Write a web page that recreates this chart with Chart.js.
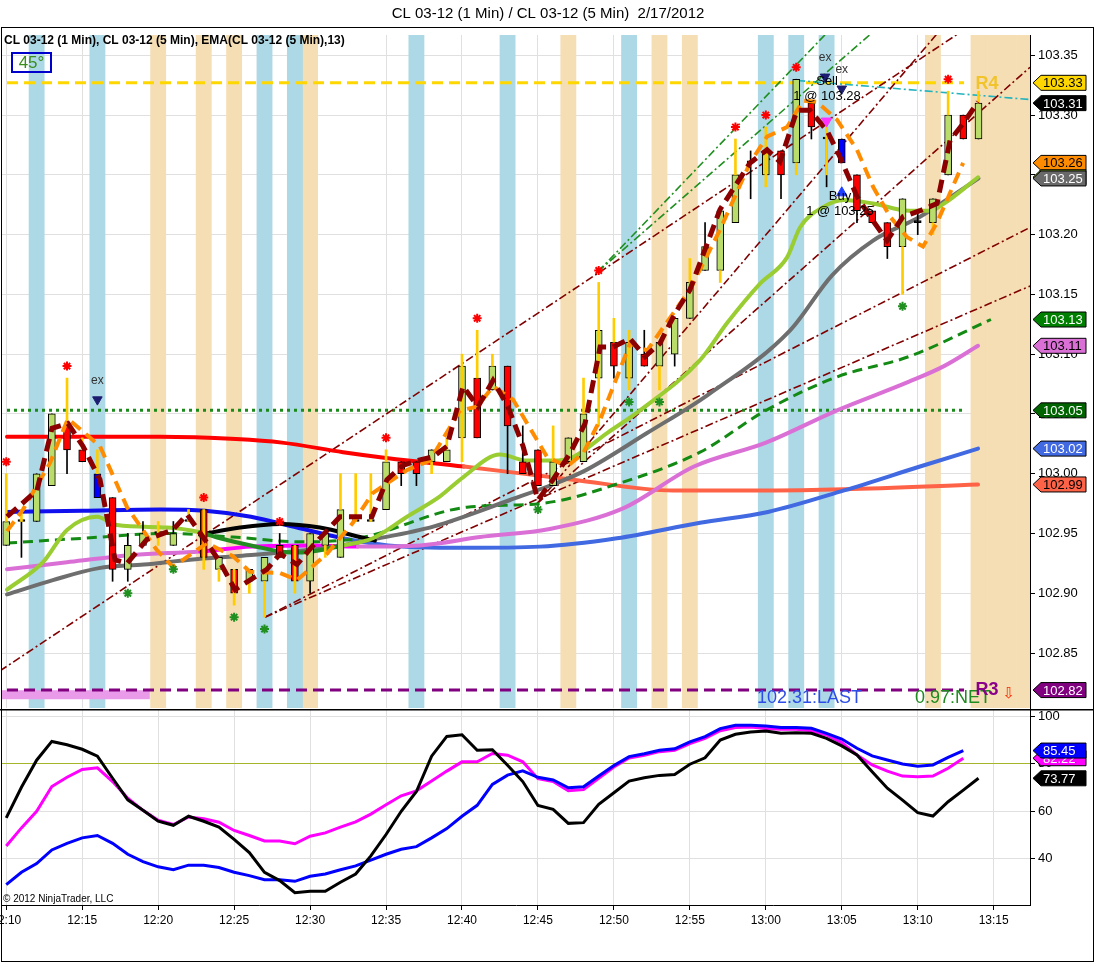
<!DOCTYPE html>
<html>
<head>
<meta charset="utf-8">
<title>CL 03-12</title>
<script src="https://cdn.jsdelivr.net/npm/chart.js@4.4.1/dist/chart.umd.min.js"></script>
<style>
html,body{margin:0;padding:0;background:#fff;}
body{width:1094px;height:962px;position:relative;overflow:hidden;}
#main{position:absolute;left:0;top:0;}
#sub{position:absolute;left:0;top:709px;}
#frame{position:absolute;left:1px;top:27px;width:1091px;height:933px;border:1px solid #000;pointer-events:none;}
</style>
</head>
<body>
<canvas id="main" width="1094" height="709"></canvas>
<canvas id="sub" width="1094" height="253"></canvas>
<div id="frame"></div>
<script>
// ---------------- DATA ----------------
const titleText = 'CL 03-12 (1 Min) / CL 03-12 (5 Min)  2/17/2012';
const headerText = 'CL 03-12 (1 Min), CL 03-12 (5 Min), EMA(CL 03-12 (5 Min),13)';
const angleText = '45°';
const lastText = '102.31:LAST';
const netText = '0.97:NET';
const copyrightText = '© 2012 NinjaTrader, LLC';
const startHour = 12, startMinute = 10;   // bar index 0 = 12:10, one bar per minute

// 1-minute candles
const opens  = [102.94,102.96,102.96,102.99,103.04,103.02,103.00,102.98,102.92,102.94, 102.95,102.94,102.96,102.97,102.92,102.92,102.91,102.91,102.94,102.94, 102.91,102.94,102.93,102.96,102.96,102.97,103.01,103.01,103.01,103.01, 103.03,103.08,103.07,103.09,103.01,103.02,102.99,103.01,103.01,103.08, 103.11,103.08,103.10,103.09,103.10,103.13,103.17,103.17,103.21,103.26, 103.25,103.27,103.26,103.31,103.28,103.28,103.25,103.22,103.21,103.19, 103.21,103.21,103.25,103.30,103.28];
const highs  = [102.96,102.96,103.00,103.05,103.04,103.02,103.00,102.98,102.95,102.96, 102.95,102.96,102.96,102.97,102.93,102.92,102.92,102.93,102.95,102.94, 102.95,102.95,102.97,102.96,102.96,103.01,103.01,103.01,103.02,103.02, 103.09,103.08,103.09,103.09,103.04,103.02,103.01,103.03,103.05,103.12, 103.11,103.11,103.12,103.11,103.13,103.16,103.21,103.22,103.25,103.27, 103.27,103.27,103.33,103.31,103.28,103.28,103.25,103.22,103.21,103.23, 103.22,103.23,103.30,103.30,103.31];
const lows   = [102.94,102.93,102.96,102.99,103.00,103.01,102.98,102.91,102.91,102.94, 102.95,102.94,102.96,102.93,102.92,102.90,102.91,102.91,102.93,102.91, 102.90,102.94,102.93,102.96,102.96,102.97,102.99,102.99,103.01,103.01, 103.03,103.03,103.07,103.00,103.00,102.99,102.99,103.01,103.01,103.08, 103.08,103.08,103.09,103.09,103.09,103.13,103.17,103.17,103.21,103.23, 103.25,103.23,103.26,103.28,103.24,103.26,103.21,103.21,103.18,103.19, 103.20,103.21,103.25,103.28,103.28];
const closes = [102.96,102.96,103.00,103.05,103.02,103.01,102.98,102.92,102.94,102.95, 102.95,102.95,102.96,102.93,102.93,102.90,102.92,102.93,102.93,102.91, 102.95,102.95,102.97,102.96,102.96,103.01,103.00,103.00,103.02,103.02, 103.09,103.03,103.09,103.04,103.00,102.99,103.01,103.03,103.05,103.12, 103.09,103.11,103.09,103.11,103.13,103.16,103.19,103.22,103.25,103.26, 103.27,103.25,103.33,103.29,103.28,103.26,103.22,103.21,103.19,103.23, 103.21,103.23,103.30,103.28,103.31];
const signalBars = [6, 55];
// yellow spikes: [bar, low, high]
const spikes = [[0,102.96,103.00],[1,102.96,102.97],[4,103.04,103.08],[5,103.02,103.03],[6,103.00,103.02],[10,102.94,102.96],[12,102.96,102.97],[13,102.92,102.97],[14,102.91,102.92],[15,102.89,102.92],[16,102.90,102.91],[17,102.88,102.91],[19,102.90,102.94],[21,102.93,102.94],[22,102.97,103.00],[23,102.96,103.00],[24,102.96,103.00],[25,103.01,103.02],[28,103.00,103.01],[29,103.02,103.03],[30,103.01,103.10],[31,103.08,103.12],[32,103.09,103.10],[36,103.01,103.04],[38,103.05,103.08],[39,103.04,103.16],[40,103.11,103.13],[41,103.07,103.12],[43,103.07,103.09],[45,103.16,103.18],[47,103.16,103.17],[48,103.25,103.28],[50,103.24,103.29],[52,103.25,103.26],[54,103.25,103.29],[59,103.15,103.19],[61,103.20,103.21],[62,103.30,103.32],[64,103.31,103.32]];

// indicator lines: [minute, price]
const redMA = [[0.05,103.031],[10.12,103.031],[15.12,103.029],[18.15,103.026],[22.17,103.018],[25.13,103.013],[30.13,103.006],[37.31,102.995],[43.89,102.986],[50.14,102.986],[55.15,102.987],[63.97,102.991]];
const blueMA = [[0.05,102.968],[5.05,102.969],[10.12,102.970],[13.08,102.969],[16.11,102.964],[19.14,102.955],[22.17,102.946],[25.13,102.940],[30.13,102.938],[35.14,102.939],[40.20,102.946],[45.67,102.959],[50.14,102.968],[55.15,102.986],[60.15,103.006],[63.97,103.021]];
const greyMA = [[0.05,102.899],[3.07,102.911],[6.10,102.921],[9.07,102.924],[12.09,102.928],[15.12,102.931],[18.15,102.934],[21.11,102.938],[24.14,102.945],[28.16,102.956],[33.16,102.978],[36.19,102.992],[38.16,103.003],[42.18,103.034],[46.19,103.066],[51.60,103.120],[54.36,103.166],[57.06,103.195],[60.15,103.215],[64.00,103.247]];
const blackMA = [[12.75,102.949],[15.39,102.955],[18.02,102.958],[20.65,102.955],[23.29,102.947],[24.27,102.944]];
const greenMA = [[0.05,102.903],[2.42,102.926],[4.00,102.953],[5.97,102.964],[7.29,102.957],[10.58,102.955],[12.75,102.951],[14.07,102.946],[16.11,102.940],[18.81,102.934],[20.13,102.935],[22.17,102.940],[24.14,102.946],[26.38,102.964],[28.55,102.981],[30.07,102.997],[32.50,103.016],[34.28,103.011],[35.99,103.011],[37.31,103.014],[39.55,103.034],[41.72,103.053],[45.67,103.095],[47.45,103.126],[49.62,103.159],[51.40,103.181],[52.25,103.206],[53.76,103.223],[55.15,103.229],[57.06,103.226],[59.43,103.220],[60.81,103.220],[61.73,103.226],[63.97,103.248]];
const dashGreenMA = [[0.05,102.942],[5.05,102.946],[10.58,102.950],[14.92,102.947],[19.34,102.943],[23.15,102.946],[30.33,102.972],[35.14,102.975],[40.60,102.993],[45.67,103.018],[50.01,103.053],[54.69,103.081],[59.43,103.098],[64.82,103.129]];
const orchidMA = [[0.05,102.920],[4.00,102.926],[8.34,102.932],[12.75,102.935],[16.11,102.939],[20.13,102.940],[23.15,102.939],[27.24,102.940],[31.19,102.947],[35.86,102.954],[40.60,102.971],[45.27,103.006],[50.01,103.026],[54.69,103.053],[59.43,103.077],[61.73,103.090],[63.97,103.107]];
const orangeLine = [[0.05,102.952],[1.10,102.970],[2.88,103.009],[4.06,103.046],[6.17,103.023],[7.95,102.972],[9.92,102.936],[10.97,102.922],[13.21,102.942],[14.92,102.931],[16.04,102.918],[18.02,102.917],[19.14,102.911],[21.11,102.933],[22.82,102.959],[24.14,102.984],[26.38,103.003],[27.89,103.011],[29.87,103.053],[30.99,103.056],[32.04,103.073],[33.36,103.062],[35.60,103.014],[36.91,103.006],[37.97,103.017],[39.09,103.045],[40.21,103.081],[41.06,103.109],[42.18,103.103],[43.89,103.134],[45.01,103.154],[46.98,103.204],[48.96,103.260],[50.08,103.282],[51.40,103.290],[52.45,103.312],[53.37,103.311],[54.69,103.296],[56.00,103.271],[57.06,103.240],[58.18,103.215],[59.29,103.198],[60.35,103.190],[61.27,103.210],[62.13,103.235],[62.99,103.260]];
const zigzagLine = [[0.05,102.964],[2.02,102.986],[3.01,103.038],[4.06,103.042],[5.05,103.023],[6.17,102.995],[7.16,102.928],[7.95,102.925],[9.26,102.945],[10.97,102.953],[11.90,102.966],[12.95,102.947],[14.07,102.926],[15.06,102.903],[16.04,102.911],[17.16,102.920],[18.02,102.933],[19.14,102.924],[20.13,102.939],[21.97,102.964],[23.09,102.964],[24.07,102.964],[25.06,102.995],[26.12,103.007],[27.04,103.011],[28.09,103.014],[29.01,103.023],[30.07,103.073],[31.05,103.056],[32.04,103.078],[33.03,103.056],[34.02,103.023],[35.00,102.978],[35.99,102.995],[37.11,103.017],[38.10,103.042],[39.09,103.106],[39.94,103.106],[41.06,103.113],[42.05,103.098],[43.03,103.109],[44.02,103.134],[45.01,103.154],[46.98,103.221],[48.10,103.243],[48.96,103.260],[50.08,103.271],[50.93,103.261],[52.05,103.304],[52.91,103.304],[54.03,103.287],[54.88,103.265],[56.00,103.232],[56.86,103.215],[57.98,103.195],[59.03,103.215],[60.15,103.220],[61.27,103.226],[62.13,103.279],[62.99,103.293],[63.97,103.311]];

// levels and drawn lines
const goldLevel = 103.327, dottedLevel = 103.053, purpleLevel = 102.819, violetLevel = 102.815;
const levelSpan = [0.05, 63.05];
const violetSpan = [-0.28, 9.45];
const fanRed = [
  [[-0.42,102.835],[62.65,103.368]],
  [[17.03,102.880],[67.39,103.157]],
  [[17.03,102.880],[67.39,103.206]],
  [[34.94,102.975],[67.39,103.340]],
  [[34.94,102.975],[61.27,103.368]]
];
const fanGreen = [
  [[38.95,103.169],[53.96,103.368]],
  [[38.95,103.169],[56.92,103.368]]
];
const tealLine = [[52.06,103.329],[67.39,103.313]];

// highlighted bars
const blueBands = [2,6,17,19,27,33,41,50,52,54];
const wheatBands = [10,13,15,20,37,43,45,61,64,65,66,67];

// markers
const redStars = [[0,103.01],[4,103.09],[13,102.98],[18,102.96],[25,103.03],[31,103.13],[39,103.17],[48,103.29],[50,103.30],[52,103.34],[62,103.33]];
const greenStars = [[8,102.90],[11,102.92],[15,102.88],[17,102.87],[35,102.97],[41,103.06],[43,103.06],[59,103.14]];
const exMarks = [[6,103.062],[53.9,103.332],[55,103.322]];
const pinkArrows = [[54,103.295]];
const blueArrows = [[55,103.235]];
const trades = [
  {m:54.03, p:103.328, lines:['Sell','1 @ 103.28']},
  {m:54.88, p:103.232, lines:['Buy','1 @ 103.25']}
];

// lower panel (one value per minute from 12:10)
const stochK = [57.1,70.0,81.4,89.3,87.9,86.0,83.1,73.8,64.7,60.3,55.7,54.0,57.8,55.7,53.2,48.1,42.5,34.2,30.7,25.6,26.2,26.2,30.0,33.5,41.1,50.1,59.9,68.2,83.1,91.4,92.1,85.6,85.8,79.3,72.4,62.3,60.7,54.8,55.1,62.8,67.7,72.6,74.0,75.0,75.4,79.7,82.4,89.9,92.3,93.3,93.7,92.7,93.0,92.7,90.6,87.4,83.6,76.5,69.6,64.6,59.3,57.9,63.9,68.8,73.77];
const stochBlue = [29.0,34.2,37.9,43.6,46.4,48.7,49.7,46.4,41.8,38.7,36.5,35.3,37.2,37.2,36.2,34.2,32.8,31.1,31.1,30.4,32.5,33.5,35.3,36.9,39.3,41.8,43.9,45.0,48.7,52.6,57.8,62.4,71.2,75.1,76.9,74.2,73.1,69.8,70.2,74.7,79.2,82.9,84.1,85.6,86.2,89.1,91.3,94.7,96.1,96.1,95.8,95.2,95.2,94.8,92.7,90.3,86.4,83.2,81.5,79.8,78.9,79.4,82.6,85.45];
const stochMagenta = [45.3,52.9,59.9,70.3,74.2,77.5,78.2,72.4,65.4,60.3,56.1,54.3,57.5,56.7,55.3,51.8,49.7,47.4,47.4,46.2,49.4,50.8,53.2,55.4,58.7,62.6,66.4,68.5,72.6,76.8,80.7,80.7,84.2,83.5,80.7,73.6,72.4,68.5,69.0,73.8,78.5,82.3,83.5,85.0,85.6,88.4,90.6,93.8,95.2,95.4,94.7,94.4,94.4,93.8,92.0,88.8,83.6,79.4,76.8,74.7,74.4,74.7,78.0,82.22];
const stochLevel = 80;

// ---------------- RENDER ----------------
const FONT = 'Arial, "Liberation Sans", sans-serif';
const GRID = '#e0e0e0';
const X_MIN = -0.28, X_MAX = 67.39;
const Y_MIN = 102.804, Y_MAX = 103.367;
const Y2_MIN = 20.43, Y2_MAX = 102.53;
const UP = '#b9dc6a', DOWN = '#ff0000', SIGNAL = '#0000ff';

const xy = a => a.map(([x, y]) => ({x, y}));
const lastOf = a => a[a.length - 1][1];
function timeLabel(v) {
  const t = startHour * 60 + startMinute + v;
  return Math.floor(t / 60) + ':' + String(t % 60).padStart(2, '0');
}
function line(data, color, width, extra) {
  return Object.assign({type:'line', data: xy(data), borderColor: color, borderWidth: width,
    pointRadius: 0, fill: false, tension: 0, order: 20}, extra || {});
}
function ma(data, color, width, extra) {
  return line(data, color, width, Object.assign({cubicInterpolationMode:'monotone', borderCapStyle:'round', borderJoinStyle:'round'}, extra || {}));
}
function bands(mins, color) {
  return {type:'bar', data: mins.map(m => ({x:m, y:[Y_MIN, Y_MAX]})), backgroundColor: color,
    borderWidth: 0, grouped: false, barPercentage: 1, categoryPercentage: 1, order: 100};
}
function markers(data, style, color, radius, extra) {
  return Object.assign({type:'line', showLine:false, data: xy(data), pointStyle: style, pointRadius: radius,
    pointBackgroundColor: color, pointBorderColor: color, pointBorderWidth: 2, order: 1}, extra || {});
}
const between = (lo, hi, inC, outC) => c => (c.p0.parsed.x >= lo && c.p0.parsed.x < hi ? inC : outC);

const datasets = [
  bands(blueBands, '#add8e6'),
  bands(wheatBands, '#f5deb3'),
  // levels
  line([[levelSpan[0], goldLevel],[levelSpan[1], goldLevel]], '#ffd700', 3, {borderDash:[11,6], order:35}),
  line([[levelSpan[0], dottedLevel],[levelSpan[1], dottedLevel]], '#1a8a1a', 3, {borderDash:[3,4], order:35}),
  line([[violetSpan[0], violetLevel],[violetSpan[1], violetLevel]], '#e99ae9', 9, {order:36}),
  line([[levelSpan[0], purpleLevel],[levelSpan[1], purpleLevel]], '#800080', 3, {borderDash:[11,6], order:35}),
  // fan / trend lines
  ...fanRed.map(f => line(f, '#800000', 1.6, {borderDash:[8,3,2,3], order:30})),
  ...fanGreen.map(f => line(f, '#1f8f1f', 1.6, {borderDash:[8,3,2,3], order:30})),
  line(tealLine, '#22b3bf', 1.6, {borderDash:[8,3,2,3], order:30}),
  // moving averages
  ma(redMA, '#ff0000', 4, {order:16, segment:{borderColor: between(30.13, 999, '#ff6347', '#ff0000')}}),
  ma(blueMA, '#0000ff', 4, {order:15, segment:{borderColor: between(22.17, 999, '#4169e1', '#1010ee')}}),
  ma(orchidMA, '#da70d6', 4, {order:14, segment:{borderColor: between(12.75, 23.15, '#ff00ff', '#da70d6')}}),
  ma(dashGreenMA, '#138a13', 3, {order:13, borderDash:[10,6], borderCapStyle:'butt'}),
  ma(greyMA, '#6e6e6e', 4, {order:12}),
  ma(blackMA, '#000000', 4, {order:11}),
  ma(greenMA, '#9acd32', 4, {order:10, segment:{borderColor: between(12.75, 22.17, '#228b22', '#9acd32')}}),
  // candles
  {type:'bar', data: highs.map((h, i) => ({x:i, y:[lows[i], h]})), backgroundColor:'#000',
    barThickness:1, grouped:false, order:9},
  {type:'bar', data: opens.map((o, i) => ({x:i, y:[o, closes[i]]})),
    backgroundColor: opens.map((o, i) => signalBars.includes(i) ? SIGNAL : closes[i] > o ? UP : closes[i] < o ? DOWN : '#000'),
    borderColor:'#000', borderWidth:1, borderSkipped:false, barThickness:7, minBarLength:2, grouped:false, order:8},
  {type:'bar', data: spikes.map(([i, lo, hi]) => ({x:i, y:[lo, hi]})), backgroundColor:'#ffcc00',
    barThickness:2, grouped:false, order:7},
  // swing lines
  line(orangeLine, '#ff8c00', 4, {borderDash:[12,7], order:3}),
  line(zigzagLine, '#8b0000', 5, {borderDash:[13,7], order:2}),
  // markers
  markers(redStars, 'star', '#ff0000', 4.5),
  markers(greenStars, 'star', '#1f8f1f', 4.5),
  markers(exMarks, 'triangle', '#1c1c70', 5.5, {pointRotation:180, pointBorderWidth:1}),
  markers(pinkArrows, 'triangle', '#ff33ff', 6, {pointRotation:180, pointBorderWidth:1}),
  markers(blueArrows, 'triangle', '#1f3fff', 6, {pointBorderWidth:1})
];

function drawTag(ctx, xLeft, y, text, bg, fg) {
  const h = 15, tip = 8, w = 53;
  ctx.beginPath();
  ctx.moveTo(xLeft, y);
  ctx.lineTo(xLeft + tip, y - h / 2);
  ctx.lineTo(xLeft + w, y - h / 2);
  ctx.lineTo(xLeft + w, y + h / 2);
  ctx.lineTo(xLeft + tip, y + h / 2);
  ctx.closePath();
  ctx.fillStyle = bg; ctx.fill();
  ctx.lineWidth = 1; ctx.strokeStyle = '#000'; ctx.stroke();
  ctx.fillStyle = fg; ctx.font = '13px ' + FONT;
  ctx.textAlign = 'left'; ctx.textBaseline = 'middle';
  ctx.fillText(text, xLeft + tip + 2, y + 1);
}

const mainOverlay = {
  id: 'mainOverlay',
  afterDatasetsDraw(chart) {
    const {ctx, chartArea: a} = chart;
    const X = v => chart.scales.x.getPixelForValue(v), Y = v => chart.scales.y.getPixelForValue(v);
    ctx.save();
    ctx.textBaseline = 'middle'; ctx.textAlign = 'left'; ctx.fillStyle = '#000';
    ctx.font = 'bold 12px ' + FONT;
    ctx.fillText(headerText, a.left + 2, a.top + 6);
    ctx.lineWidth = 2; ctx.strokeStyle = '#0000cd';
    ctx.strokeRect(a.left + 10, a.top + 18, 39, 19);
    ctx.font = '17px ' + FONT; ctx.fillStyle = '#3a8d1c'; ctx.textAlign = 'center';
    ctx.fillText(angleText, a.left + 29.5, a.top + 28);
    ctx.font = '12px ' + FONT; ctx.fillStyle = '#333';
    exMarks.forEach(([m, p]) => ctx.fillText('ex', X(m), Y(p) - 19));
    ctx.font = '13px ' + FONT; ctx.fillStyle = '#000';
    trades.forEach(t => t.lines.forEach((s, k) => ctx.fillText(s, X(t.m), Y(t.p) + k * 15)));
    const rx = X(opens.length - 1) - 3;
    ctx.textAlign = 'left'; ctx.font = 'bold 18px ' + FONT;
    ctx.fillStyle = '#f2c42c'; ctx.fillText('R4', rx, Y(goldLevel) + 1);
    ctx.textBaseline = 'alphabetic'; ctx.font = '18px ' + FONT;
    ctx.fillStyle = '#2c4ee6'; ctx.fillText(lastText, a.right - 273, a.bottom - 5);
    ctx.fillStyle = '#1f8a1f'; ctx.fillText(netText, a.right - 115, a.bottom - 5);
    ctx.textBaseline = 'middle'; ctx.font = 'bold 18px ' + FONT;
    ctx.fillStyle = '#8b008b'; ctx.fillText('R3', rx, Y(purpleLevel));
    ctx.fillStyle = '#ff2a00'; ctx.font = '15px "DejaVu Sans", sans-serif';
    ctx.fillText('⇩', rx + 27, Y(purpleLevel) + 4);
    ctx.restore();
  },
  afterDraw(chart) {
    const {ctx, chartArea: a} = chart;
    const Y = v => chart.scales.y.getPixelForValue(v);
    const tags = [
      [goldLevel, '#ffd700', '#000'],
      [closes[closes.length - 1], '#000', '#fff'],
      [lastOf(orangeLine), '#ff8c00', '#000'],
      [lastOf(greenMA), '#9acd32', '#000'],
      [lastOf(greyMA), '#696969', '#fff'],
      [lastOf(dashGreenMA), '#008000', '#fff'],
      [lastOf(orchidMA), '#da70d6', '#000'],
      [dottedLevel, '#006400', '#fff'],
      [lastOf(blueMA), '#4169e1', '#fff'],
      [lastOf(redMA), '#ff6347', '#000'],
      [purpleLevel, '#800080', '#fff']
    ];
    ctx.save();
    tags.forEach(([v, bg, fg]) => drawTag(ctx, a.right + 3, Y(v), v.toFixed(2), bg, fg));
    ctx.restore();
  }
};

new Chart(document.getElementById('main'), {
  type: 'bar',
  data: {datasets},
  options: {
    responsive: false, animation: false, events: [],
    layout: {autoPadding: false, padding: {left: 2, right: 0, top: 0, bottom: 0}},
    plugins: {
      legend: {display: false}, tooltip: {enabled: false},
      title: {display: true, text: titleText, color: '#000',
        font: {family: FONT, size: 15, weight: 'normal'}, padding: {top: 5, bottom: 12}}
    },
    scales: {
      x: {type: 'linear', min: X_MIN, max: X_MAX, offset: false,
        ticks: {display: false, stepSize: 5, includeBounds: false},
        grid: {color: GRID, drawTicks: false, offset: false}, border: {display: false},
        afterFit(s) { s.height = 1; s.paddingLeft = 0; s.paddingRight = 0; }},
      y: {type: 'linear', position: 'right', min: Y_MIN, max: Y_MAX,
        ticks: {stepSize: 0.05, includeBounds: false, callback: v => v.toFixed(2),
          font: {family: FONT, size: 13}, color: '#000', padding: 3},
        grid: {color: GRID, tickColor: '#000', tickLength: 5},
        border: {display: true, color: '#000'},
        afterFit(s) { s.width = 64; s.paddingTop = 0; s.paddingBottom = 0; }}
    }
  },
  plugins: [mainOverlay]
});

const subOverlay = {
  id: 'subOverlay',
  afterDraw(chart) {
    const {ctx, chartArea: a} = chart;
    const Y = v => chart.scales.y.getPixelForValue(v);
    ctx.save();
    ctx.strokeStyle = '#000'; ctx.lineWidth = 1.5;
    ctx.beginPath(); ctx.moveTo(0, 0.75); ctx.lineTo(chart.width, 0.75); ctx.stroke();
    ctx.font = '10px ' + FONT; ctx.fillStyle = '#000'; ctx.textAlign = 'left'; ctx.textBaseline = 'middle';
    ctx.fillText(copyrightText, a.left + 1, a.bottom - 6);
    drawTag(ctx, a.right + 3, Y(stochMagenta[stochMagenta.length - 1]), stochMagenta[stochMagenta.length - 1].toFixed(2), '#ff00ff', '#fff');
    drawTag(ctx, a.right + 3, Y(stochBlue[stochBlue.length - 1]), stochBlue[stochBlue.length - 1].toFixed(2), '#0000ff', '#fff');
    drawTag(ctx, a.right + 3, Y(stochK[stochK.length - 1]), stochK[stochK.length - 1].toFixed(2), '#000', '#fff');
    ctx.restore();
  }
};

const perMinute = arr => arr.map((v, i) => ({x: i, y: v}));
new Chart(document.getElementById('sub'), {
  type: 'line',
  data: {datasets: [
    {data: perMinute(stochK), borderColor: '#000', borderWidth: 3, pointRadius: 0, tension: 0, order: 1},
    {data: perMinute(stochBlue), borderColor: '#0000ff', borderWidth: 3, pointRadius: 0, tension: 0, order: 2},
    {data: perMinute(stochMagenta), borderColor: '#ff00ff', borderWidth: 3, pointRadius: 0, tension: 0, order: 3},
    {data: [{x: X_MIN, y: stochLevel}, {x: X_MAX, y: stochLevel}], borderColor: '#a5b52a', borderWidth: 1, pointRadius: 0, order: 4}
  ]},
  options: {
    responsive: false, animation: false, events: [],
    layout: {autoPadding: false, padding: {left: 2, right: 0, top: 1, bottom: 0}},
    plugins: {legend: {display: false}, tooltip: {enabled: false}},
    scales: {
      x: {type: 'linear', min: X_MIN, max: X_MAX, offset: false,
        ticks: {stepSize: 5, includeBounds: false, callback: v => timeLabel(v), maxRotation: 0, autoSkip: false,
          font: {family: FONT, size: 12}, color: '#000', padding: 3},
        grid: {color: GRID, tickColor: '#000', tickLength: 5},
        border: {display: true, color: '#000'},
        afterFit(s) { s.height = 57; s.paddingLeft = 0; s.paddingRight = 0; }},
      y: {type: 'linear', position: 'right', min: Y2_MIN, max: Y2_MAX,
        ticks: {stepSize: 20, includeBounds: false, font: {family: FONT, size: 13}, color: '#000', padding: 3},
        grid: {color: GRID, tickColor: '#000', tickLength: 5},
        border: {display: true, color: '#000'},
        afterFit(s) { s.width = 64; s.paddingTop = 0; s.paddingBottom = 0; }}
    }
  },
  plugins: [subOverlay]
});
</script>
</body>
</html>
